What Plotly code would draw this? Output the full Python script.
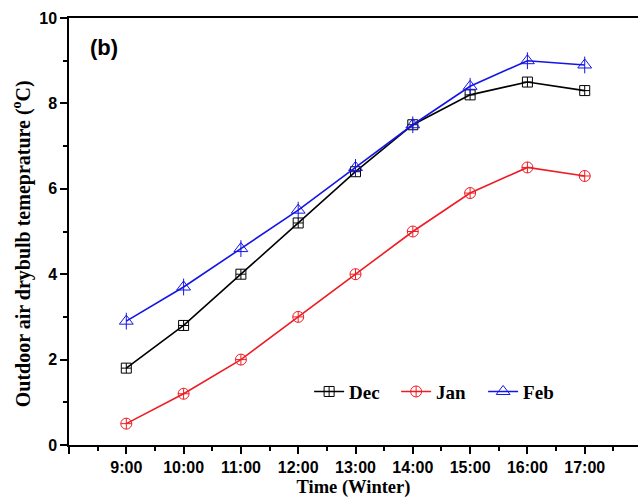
import plotly.graph_objects as go

times = ["9:00", "10:00", "11:00", "12:00", "13:00", "14:00", "15:00", "16:00", "17:00"]
dec = [1.8, 2.8, 4.0, 5.2, 6.4, 7.5, 8.2, 8.5, 8.3]
jan = [0.5, 1.2, 2.0, 3.0, 4.0, 5.0, 5.9, 6.5, 6.3]
feb = [2.9, 3.7, 4.6, 5.5, 6.5, 7.5, 8.4, 9.0, 8.9]
y_ticks = [0, 2, 4, 6, 8, 10]

xi = list(range(len(times)))

fig = go.Figure()
fig.add_trace(go.Scatter(x=xi, y=dec, name="Dec", mode="lines+markers",
                         line=dict(color="black", width=1.6),
                         marker=dict(symbol="square-cross-open", size=10, color="black", line=dict(width=1))))
fig.add_trace(go.Scatter(x=xi, y=jan, name="Jan", mode="lines+markers",
                         line=dict(color="#ee1c24", width=1.6),
                         marker=dict(symbol="circle-cross-open", size=11, color="#ee1c24", line=dict(width=1))))
fig.add_trace(go.Scatter(x=xi, y=feb, name="Feb", mode="lines+markers",
                         line=dict(color="#1414e6", width=1.6),
                         marker=dict(symbol="triangle-up-open", size=12, color="#1414e6", line=dict(width=1))))
fig.add_trace(go.Scatter(x=xi, y=feb, mode="markers", showlegend=False, hoverinfo="skip",
                         marker=dict(symbol="line-ns-open", size=12, color="#1414e6", line=dict(width=1, color="#1414e6"))))

fig.update_layout(
    width=638, height=500,
    margin=dict(l=69, r=0, t=18, b=55),
    paper_bgcolor="white", plot_bgcolor="white",
    showlegend=True,
    legend=dict(orientation="h", x=0.422, y=0.125, xanchor="left", yanchor="middle",
                font=dict(family="Liberation Serif", size=19, color="black", weight="bold"),
                bgcolor="rgba(0,0,0,0)", entrywidth=42, entrywidthmode="pixels", tracegroupgap=0),
    annotations=[
        dict(text="(b)", x=0.033, y=0.93, xref="paper", yref="paper",
             xanchor="left", yanchor="middle", showarrow=False,
             font=dict(family="Liberation Sans", size=22, color="black", weight="bold")),
        dict(text="Outdoor air drybulb temeprature (<sup>o</sup>C)", textangle=-90,
             x=-0.083, y=(445 - 243.5) / 427, xref="paper", yref="paper",
             xanchor="center", yanchor="middle", showarrow=False,
             font=dict(family="Liberation Serif", size=20, color="black", weight="bold")),
    ],
)

fig.update_xaxes(
    range=[-1, 8.93],
    tickmode="array",
    tickvals=list(range(-1, len(times))),
    ticktext=[""] + times,
    ticks="outside", ticklen=7, tickwidth=1.5, tickcolor="black",
    minor=dict(tickmode="array", tickvals=[v + 0.5 for v in range(-1, len(times))],
               ticks="outside", ticklen=4, tickwidth=1.5, tickcolor="black"),
    showline=True, linecolor="black", linewidth=1.5, mirror=True,
    showgrid=False, zeroline=False,
    tickfont=dict(family="Liberation Sans", size=16, color="black", weight="bold"),
    title=dict(text="Time (Winter)", standoff=5,
               font=dict(family="Liberation Serif", size=18.5, color="black", weight="bold")),
)
fig.update_yaxes(
    range=[0, 10],
    tickmode="array", tickvals=y_ticks,
    ticks="outside", ticklen=7, tickwidth=1.5, tickcolor="black",
    minor=dict(tickmode="array", tickvals=[1, 3, 5, 7, 9],
               ticks="outside", ticklen=4, tickwidth=1.5, tickcolor="black"),
    showline=True, linecolor="black", linewidth=1.5, mirror=False,
    showgrid=False, zeroline=False,
    tickfont=dict(family="Liberation Sans", size=16, color="black", weight="bold"),
)

fig.write_html("out.html")
